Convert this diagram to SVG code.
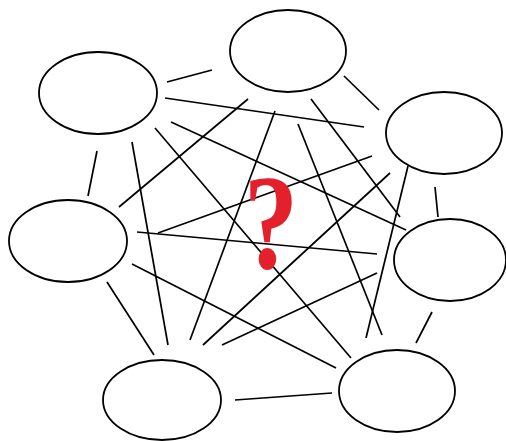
<svg xmlns="http://www.w3.org/2000/svg" width="506" height="441" viewBox="0 0 506 441">
<style>
.node{fill:none;stroke:#000;stroke-width:1.8}
.edge{stroke:#000;stroke-width:1.7;fill:none;stroke-linecap:butt}
.q{font-family:"Liberation Serif","Times New Roman",serif;font-weight:bold;fill:#e3202c}
</style>
<rect width="506" height="441" fill="#fff"/>
<g id="connectors">
<line class="edge" x1="167" y1="82" x2="212" y2="70"/>
<line class="edge" x1="165" y1="98" x2="364" y2="127"/>
<line class="edge" x1="97" y1="151" x2="88" y2="196"/>
<line class="edge" x1="171" y1="122" x2="406" y2="230"/>
<line class="edge" x1="132" y1="142" x2="168" y2="345"/>
<line class="edge" x1="155" y1="128" x2="351" y2="358"/>
<line class="edge" x1="344" y1="76" x2="379" y2="110"/>
<line class="edge" x1="248" y1="99" x2="119" y2="207"/>
<line class="edge" x1="311" y1="99" x2="400" y2="217"/>
<line class="edge" x1="275" y1="111" x2="190" y2="340"/>
<line class="edge" x1="298" y1="124" x2="382" y2="335"/>
<line class="edge" x1="372" y1="156" x2="158" y2="233"/>
<line class="edge" x1="435" y1="187" x2="438" y2="217"/>
<line class="edge" x1="390" y1="173" x2="203" y2="345"/>
<line class="edge" x1="408" y1="166" x2="366" y2="338"/>
<line class="edge" x1="137" y1="232" x2="377" y2="254"/>
<line class="edge" x1="107" y1="282" x2="154" y2="355"/>
<line class="edge" x1="132" y1="264" x2="336" y2="368"/>
<line class="edge" x1="222" y1="345" x2="377" y2="273"/>
<line class="edge" x1="432" y1="312" x2="416" y2="343"/>
<line class="edge" x1="235" y1="400" x2="332" y2="393"/>
</g>
<g id="node-a"><ellipse class="node" cx="98" cy="93" rx="59" ry="41"/></g>
<g id="node-b"><ellipse class="node" cx="288" cy="51" rx="58" ry="41"/></g>
<g id="node-c"><ellipse class="node" cx="444" cy="133" rx="58" ry="41"/></g>
<g id="node-d"><ellipse class="node" cx="68" cy="241" rx="59" ry="41"/></g>
<g id="node-e"><ellipse class="node" cx="450" cy="260" rx="56" ry="41"/></g>
<g id="node-f"><ellipse class="node" cx="162" cy="400" rx="59" ry="40"/></g>
<g id="node-g"><ellipse class="node" cx="397" cy="391" rx="58" ry="41"/></g>
<g id="question"><text class="q" x="0" y="0" text-anchor="middle" font-size="136" transform="translate(271 268) scale(0.8 1)">?</text></g>
</svg>
